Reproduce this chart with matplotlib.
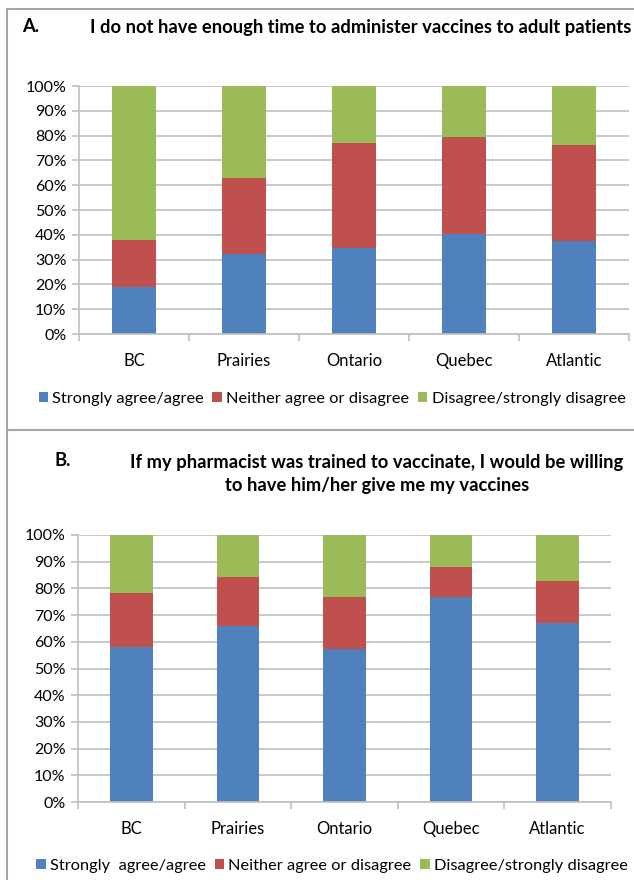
import numpy as np
import matplotlib
matplotlib.use("Agg")
import matplotlib.pyplot as plt
from matplotlib.patches import Patch
from matplotlib.lines import Line2D
from matplotlib.ticker import FuncFormatter, FixedLocator

plt.rcParams['font.family'] = ['Lato', 'DejaVu Sans']

# Data (percent of respondents)
regions = ['BC', 'Prairies', 'Ontario', 'Quebec', 'Atlantic']

# A. I do not have enough time to administer vaccines to adult patients
a_agree = [19.1, 32.3, 34.5, 40.4, 37.5]
a_neither = [18.8, 30.8, 42.4, 38.9, 38.8]
a_disagree = [62.1, 36.9, 23.1, 20.7, 23.7]

# B. If my pharmacist was trained to vaccinate ...
b_agree = [58.2, 66.0, 57.2, 76.6, 67.0]
b_neither = [20.0, 18.4, 19.4, 11.3, 15.9]
b_disagree = [21.8, 15.6, 23.4, 12.1, 17.1]

legend_a = ['Strongly agree/agree', 'Neither agree or disagree', 'Disagree/strongly disagree']
legend_b = ['Strongly  agree/agree', 'Neither agree or disagree', 'Disagree/strongly disagree']

colors = ['#4F81BD', '#C0504D', '#9BBB59']
grid_col = '#BFBFBF'

W, H = 634, 880
fig = plt.figure(figsize=(W / 100, H / 100), dpi=100)


def px_axes(left, top, right, bottom):
    # pixel box -> figure fraction axes
    return fig.add_axes([left / W, 1 - bottom / H, (right - left) / W, (bottom - top) / H])


def draw_panel(ax, agree, neither, disagree):
    x = np.arange(len(regions))
    ax.bar(x, agree, 0.4, color=colors[0], zorder=2)
    ax.bar(x, neither, 0.4, bottom=agree, color=colors[1], zorder=2)
    ax.bar(x, disagree, 0.4, bottom=np.add(agree, neither), color=colors[2], zorder=2)
    ax.set_xlim(-0.5, len(regions) - 0.5)
    ax.set_ylim(0, 100)
    ax.set_yticks(np.arange(0, 101, 10))
    ax.yaxis.set_major_formatter(FuncFormatter(lambda v, p: f'{v:.0f}%'))
    ax.yaxis.grid(True, color=grid_col, linewidth=1.2)
    ax.set_axisbelow(True)
    ax.set_xticks(x)
    ax.set_xticklabels(regions, fontsize=12)
    ax.xaxis.set_minor_locator(FixedLocator(np.arange(-0.5, len(regions), 1.0)))
    ax.tick_params(axis='x', which='major', length=0, pad=14)
    ax.tick_params(axis='x', which='minor', length=5, color=grid_col, width=1.2)
    ax.tick_params(axis='y', length=5, color=grid_col, width=1.2, labelsize=11.5, pad=4)
    for s in ['top', 'right']:
        ax.spines[s].set_visible(False)
    for s in ['left', 'bottom']:
        ax.spines[s].set_color(grid_col)
        ax.spines[s].set_linewidth(1.2)


def add_legend(labels, yc):
    handles = [Patch(facecolor=c, edgecolor='none') for c in colors]
    fig.legend(handles, labels, loc='center', bbox_to_anchor=(332 / W, 1 - yc / H),
               ncol=3, frameon=False, fontsize=11.8, handlelength=0.6, handleheight=0.6,
               handletextpad=0.25, columnspacing=0.5, borderaxespad=0)


# Panel A
ax1 = px_axes(79, 86, 629, 334)
draw_panel(ax1, a_agree, a_neither, a_disagree)
fig.text(22 / W, 1 - 27 / H, 'A.', fontsize=13.2, fontweight='bold', va='center')
fig.text(361 / W, 1 - 27 / H, 'I do not have enough time to administer vaccines to adult patients',
         fontsize=13.2, fontweight='bold', va='center', ha='center')
add_legend(legend_a, 399)

# Panel B
ax2 = px_axes(78, 535, 611, 802)
draw_panel(ax2, b_agree, b_neither, b_disagree)
fig.text(55 / W, 1 - 461 / H, 'B.', fontsize=13.2, fontweight='bold', va='center')
fig.text(377 / W, 1 - 474 / H,
         'If my pharmacist was trained to vaccinate, I would be willing\nto have him/her give me my vaccines',
         fontsize=13.2, fontweight='bold', va='center', ha='center', linespacing=1.4)
add_legend(legend_b, 866)

# frame lines
border = '#A6A6A6'
fig.add_artist(Line2D([7 / W, 7 / W], [0, 1 - 9 / H], color=border, lw=1.5))
fig.add_artist(Line2D([7 / W, 1], [1 - 9 / H, 1 - 9 / H], color=border, lw=1.5))
fig.add_artist(Line2D([7 / W, 1], [1 - 430 / H, 1 - 430 / H], color=border, lw=1.5))

fig.savefig('out.png', dpi=100)
